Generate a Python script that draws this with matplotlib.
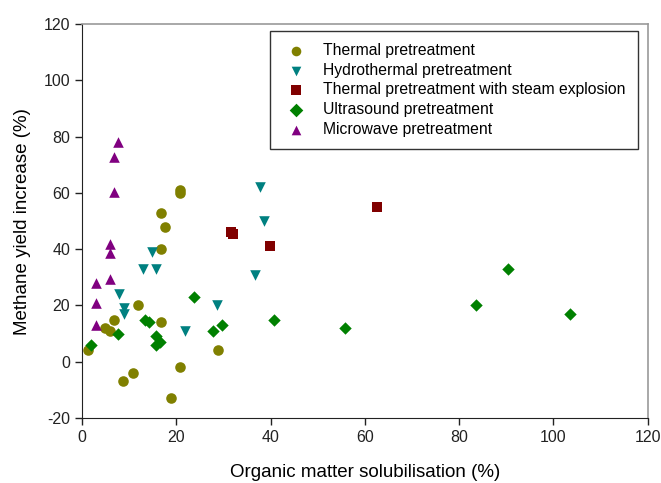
import matplotlib
matplotlib.use("Agg")
import matplotlib.pyplot as plt

plt.rcParams['font.family'] = ['Liberation Sans', 'DejaVu Sans']
plt.rcParams['axes.unicode_minus'] = False

# --- Data (x: solubilisation %, y: methane yield increase %)
thermal_x = [1.3, 4.9, 5.9, 6.9, 8.8, 10.8, 11.8, 16.7, 17.7, 16.7, 16.7, 18.8, 20.8, 20.8, 20.8, 28.8]
thermal_y = [4, 12, 11, 15, -7, -4, 20, 53, 48, 40, 14, -13, 61, 60, -2, 4]

hydro_x = [7.8, 8.9, 8.9, 12.9, 14.8, 15.8, 21.8, 28.6, 36.7, 37.7, 38.7]
hydro_y = [24, 19, 17, 33, 39, 33, 11, 20, 31, 62, 50]

steam_x = [31.7, 32.0, 39.8, 62.5]
steam_y = [46, 45.5, 41, 55]

ultra_x = [1.9, 7.7, 13.4, 14.2, 15.8, 16.5, 15.8, 23.8, 27.7, 29.8, 40.7, 55.8, 83.5, 90.3, 103.5]
ultra_y = [6, 10, 15, 14, 9, 7, 6, 23, 11, 13, 15, 12, 20, 33, 17]

micro_x = [7.7, 6.85, 6.85, 5.9, 5.9, 5.9, 2.9, 2.9, 2.9]
micro_y = [78, 72.6, 60.3, 42, 38.6, 29.5, 28, 21, 13]

series = [
    ("Thermal pretreatment", thermal_x, thermal_y, "o", "#808000", 58),
    ("Hydrothermal pretreatment", hydro_x, hydro_y, "v", "#008080", 58),
    ("Thermal pretreatment with steam explosion", steam_x, steam_y, "s", "#800000", 46),
    ("Ultrasound pretreatment", ultra_x, ultra_y, "D", "#008000", 40),
    ("Microwave pretreatment", micro_x, micro_y, "^", "#800080", 58),
]

fig = plt.figure(figsize=(6.61, 4.83), dpi=100)
ax = fig.add_axes([0.124, 0.1346, 0.856, 0.8154])

for label, xs, ys, m, col, s in series:
    ax.scatter(xs, ys, marker=m, color=col, s=s, linewidths=0, label=label, zorder=3)

ax.set_xlim(0, 120)
ax.set_ylim(-20, 120)
ax.set_xticks(range(0, 121, 20))
ax.set_yticks(range(-20, 121, 20))
ax.tick_params(direction="out", length=5, width=1, labelsize=11.5, colors="#222222")

for side in ["top", "right"]:
    ax.spines[side].set_color("#999999")
    ax.spines[side].set_linewidth(1.2)
for side in ["left", "bottom"]:
    ax.spines[side].set_color("#222222")

ax.set_xlabel("Organic matter solubilisation (%)", fontsize=13.5, labelpad=14)
ax.set_ylabel("Methane yield increase (%)", fontsize=13.5, labelpad=9)

leg = ax.legend(loc="upper right", bbox_to_anchor=(0.982, 0.982), fontsize=11.3,
                frameon=True, fancybox=False, edgecolor="black",
                labelspacing=0.3, handletextpad=0.85, borderpad=0.75,
                borderaxespad=0, handlelength=1.8, scatterpoints=1)
leg.get_frame().set_linewidth(1.0)
for h in leg.legend_handles:
    h.set_sizes([48])

fig.savefig("out.png", dpi=100)
